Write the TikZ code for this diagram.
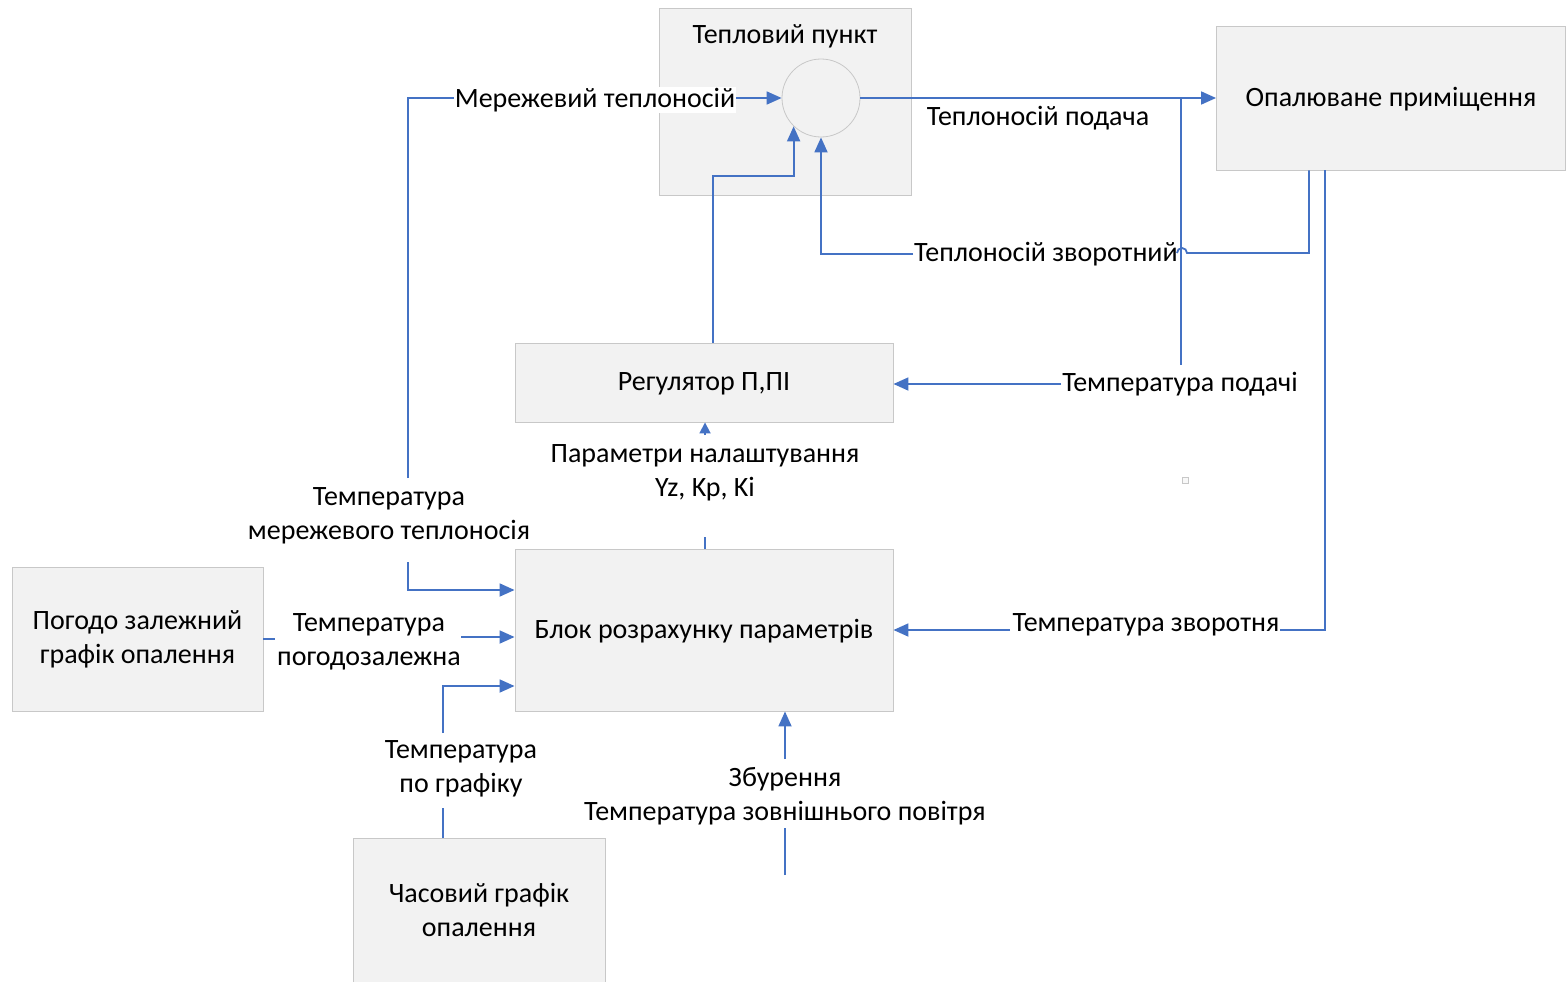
\documentclass[tikz,border=0pt]{standalone}
\usepackage{fontspec}
\setmainfont{Carlito}
\usetikzlibrary{arrows.meta,calc}
\definecolor{ln}{HTML}{4472C4}
\definecolor{bf}{HTML}{F2F2F2}
\definecolor{bd}{HTML}{C8C8C8}
\begin{document}
\begin{tikzpicture}[x=1pt,y=-1pt,
 lbl/.style={font=\fontsize{28}{34}\selectfont,align=center,inner sep=1pt},
 box/.style={draw=bd,fill=bf,line width=0.9pt,inner sep=0pt},
 con/.style={draw=ln,line width=1.8pt},
 arr/.style={con,-{Triangle[length=15pt,width=13pt]}},
 sarr/.style={con,-{Triangle[length=11pt,width=11pt]}}]
\useasboundingbox (0,0) rectangle (1566,982);
% boxes
\node[box,minimum width=252,minimum height=187] (tp) at (785,101.5) {};
\node[lbl] (tpl) at (785,36) {Тепловий пункт};
\node[circle,draw=bd,fill=bf,minimum size=78,inner sep=0pt,line width=0.8pt] (mix) at (821,98) {};
\node[lbl,box,minimum width=349,minimum height=144,text depth=2pt] (room) at (1391,98) {Опалюване приміщення};
\node[lbl,box,minimum width=378,minimum height=79,text depth=2pt] (reg) at (704,382.5) {Регулятор П,ПІ};
\node[lbl,box,minimum width=378,minimum height=162,text depth=2pt] (blok) at (704,630) {Блок розрахунку параметрів};
\node[lbl,box,minimum width=251,minimum height=144] (pog) at (137.5,639) {Погодо залежний\\графік опалення};
\node[lbl,box,minimum width=252,minimum height=144] (chas) at (479,910) {Часовий графік\\опалення};
\draw[draw=bd,fill=bf!50,line width=0.6pt] (1182,477) rectangle (1188,483);
% Мережевий теплоносій
\node[lbl,fill=white] (lmt) at (595,100) {Мережевий теплоносій};
\coordinate (a1) at (408,478);
\draw[con] (a1) |- (lmt.west |- mix.west);
\draw[arr] (lmt.east |- mix.west) -- (mix.west);
\node[lbl] (ltm) at (389,516) {Температура\\мережевого теплоносія};
\coordinate (a2) at (408,562);
\draw[arr] (a2) |- (blok.west |- 0,590);
% подача
\draw[arr] (mix.east) -- (room.west);
\node[lbl] (lpod) at (1038,118) {Теплоносій подача};
\node[lbl] (ltp) at (1180,384) {Температура подачі};
\coordinate (p1) at (1181,98);
\coordinate (p2) at (1181,365);
\draw[con] (p1) -- (p2);
\draw[arr] (ltp.west) -- (reg.east |- ltp.west);
% зворотний
\node[lbl] (lzv) at (1046,254) {Теплоносій зворотний};
\draw[con] (room.south -| 1309,0) -- (1309,253) -- (1187,253) arc[start angle=0,end angle=-180,radius=5];
\draw[arr] (lzv.west) -| (mix.south);
% регулятор -> вузол
\draw[arr] (reg.north -| 713,0) |- ($(mix.226)+(0,50)$) -- (mix.226);
% параметри
\node[lbl] (lpar) at (705,473) {Параметри налаштування\\Yz, Kp, Ki};
\coordinate (q1) at (705,537);
\coordinate (q2) at (705,435);
\draw[con] (blok.north -| q1) -- (q1);
\draw[sarr] (q2) -- (reg.south -| q2);
% погодозалежна
\node[lbl] (lpg) at (369,642) {Температура\\погодозалежна};
\coordinate (g1) at (461,637);
\draw[con] (pog.east) -- ++(12,0);
\draw[arr] (g1) -- (blok.west |- g1);
% по графіку
\node[lbl] (lgr) at (461,769) {Температура\\по графіку};
\coordinate (h1) at (443,808);
\coordinate (h2) at (443,733);
\draw[con] (chas.north -| h1) -- (h1);
\draw[arr] (h2) |- (blok.west |- 0,686);
% збурення
\node[lbl] (lzb) at (785,796) {Збурення\\Температура зовнішнього повітря};
\coordinate (z1) at (785,875);
\coordinate (z2) at (785,828);
\coordinate (z3) at (785,759);
\draw[con] (z1) -- (z2);
\draw[arr] (z3) -- (blok.south -| z3);
% зворотня
\node[lbl] (ltz) at (1146,625) {Температура зворотня};
\coordinate (t1) at (1280,630);
\coordinate (t2) at (1010,630);
\draw[con] (room.south -| 1325,0) |- (t1);
\draw[arr] (t2) -- (blok.east |- t2);
\end{tikzpicture}
\end{document}
